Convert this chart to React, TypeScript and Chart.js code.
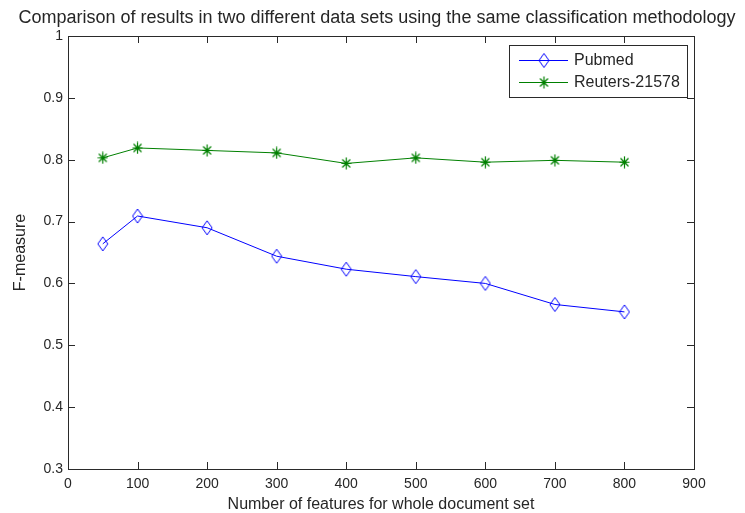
import React, { useEffect, useRef } from "react";
import { Chart, registerables } from "chart.js";

Chart.register(...registerables);

const TITLE = "Comparison of results in two different data sets using the same classification methodology";
const X_LABEL = "Number of features for whole document set";
const Y_LABEL = "F-measure";

const features = [50, 100, 200, 300, 400, 500, 600, 700, 800];
const pubmed = [0.664, 0.709, 0.69, 0.644, 0.623, 0.611, 0.6, 0.566, 0.554];
const reuters = [0.803, 0.819, 0.815, 0.811, 0.794, 0.803, 0.796, 0.799, 0.796];
const seriesNames = ["Pubmed", "Reuters-21578"];

const FONT = "'Liberation Sans', Arial, sans-serif";
const TEXT = "#262626";
const AXIS = "#2a2a2a";
const BLUE = "#0000ff";
const GREEN = "#008000";

function makeDiamond(): HTMLCanvasElement {
  const c = document.createElement("canvas");
  c.width = 12;
  c.height = 16;
  const ctx = c.getContext("2d")!;
  ctx.strokeStyle = BLUE;
  ctx.lineWidth = 1;
  ctx.beginPath();
  ctx.moveTo(6, 1);
  ctx.lineTo(11, 8);
  ctx.lineTo(6, 15);
  ctx.lineTo(1, 8);
  ctx.closePath();
  ctx.stroke();
  return c;
}

function makeStar(): HTMLCanvasElement {
  const c = document.createElement("canvas");
  c.width = 11;
  c.height = 13;
  const ctx = c.getContext("2d")!;
  ctx.strokeStyle = GREEN;
  ctx.lineWidth = 1.2;
  ctx.beginPath();
  ctx.moveTo(5.5, 0.5);
  ctx.lineTo(5.5, 12.5);
  ctx.moveTo(0.5, 6.5);
  ctx.lineTo(10.5, 6.5);
  ctx.moveTo(1.5, 2.5);
  ctx.lineTo(9.5, 10.5);
  ctx.moveTo(9.5, 2.5);
  ctx.lineTo(1.5, 10.5);
  ctx.stroke();
  ctx.fillStyle = GREEN;
  ctx.beginPath();
  ctx.arc(5.5, 6.5, 2, 0, Math.PI * 2);
  ctx.fill();
  return c;
}

export default function App() {
  const ref = useRef<HTMLCanvasElement | null>(null);

  useEffect(() => {
    if (!ref.current) return;
    const diamond = makeDiamond();
    const star = makeStar();

    const frame = {
      id: "matlabFrame",
      afterDraw(chart: any) {
        const { ctx, chartArea: a, scales } = chart;
        const xs = scales.x;
        const ys = scales.y;
        ctx.save();
        ctx.strokeStyle = AXIS;
        ctx.lineWidth = 1;
        ctx.strokeRect(Math.round(a.left) + 0.5, Math.round(a.top) + 0.5, Math.round(a.right - a.left), Math.round(a.bottom - a.top));
        const tl = 7;
        ctx.beginPath();
        xs.ticks.forEach((t: any) => {
          const px = Math.round(xs.getPixelForValue(t.value)) + 0.5;
          ctx.moveTo(px, a.bottom);
          ctx.lineTo(px, a.bottom - tl);
          ctx.moveTo(px, a.top);
          ctx.lineTo(px, a.top + tl);
        });
        ys.ticks.forEach((t: any) => {
          const py = Math.round(ys.getPixelForValue(t.value)) + 0.5;
          ctx.moveTo(a.left, py);
          ctx.lineTo(a.left + tl, py);
          ctx.moveTo(a.right, py);
          ctx.lineTo(a.right - tl, py);
        });
        ctx.stroke();

        // title
        ctx.fillStyle = TEXT;
        ctx.font = `18px ${FONT}`;
        ctx.textAlign = "center";
        ctx.textBaseline = "middle";
        ctx.fillText(TITLE, 377, 18);
        // x label
        ctx.font = `16px ${FONT}`;
        ctx.fillText(X_LABEL, (a.left + a.right) / 2, 505);
        // y label
        ctx.save();
        ctx.translate(21, (a.top + a.bottom) / 2);
        ctx.rotate(-Math.PI / 2);
        ctx.fillText(Y_LABEL, 0, 0);
        ctx.restore();

        // legend
        const lx = 509, ly = 45, lw = 178, lh = 52;
        ctx.fillStyle = "#ffffff";
        ctx.fillRect(lx, ly, lw, lh);
        ctx.strokeStyle = AXIS;
        ctx.strokeRect(lx + 0.5, ly + 0.5, lw, lh);
        const rows = [ly + 15, ly + 37];
        chart.data.datasets.forEach((ds: any, i: number) => {
          const y = rows[i];
          ctx.strokeStyle = ds.borderColor;
          ctx.lineWidth = 1;
          ctx.beginPath();
          ctx.moveTo(lx + 10, y + 0.5);
          ctx.lineTo(lx + 59, y + 0.5);
          ctx.stroke();
          const img = ds.pointStyle as HTMLCanvasElement;
          ctx.drawImage(img, lx + 35 - img.width / 2, y - img.height / 2 + 0.5);
          ctx.fillStyle = TEXT;
          ctx.font = `16px ${FONT}`;
          ctx.textAlign = "left";
          ctx.textBaseline = "middle";
          ctx.fillText(ds.label, lx + 65, y + 1);
        });
        ctx.restore();
      },
    };

    const chart = new Chart(ref.current, {
      type: "line",
      data: {
        datasets: [
          {
            label: seriesNames[0],
            data: features.map((f, i) => ({ x: f, y: pubmed[i] })),
            borderColor: BLUE,
            backgroundColor: BLUE,
            borderWidth: 1,
            pointStyle: diamond as any,
            pointRadius: 6,
          },
          {
            label: seriesNames[1],
            data: features.map((f, i) => ({ x: f, y: reuters[i] })),
            borderColor: GREEN,
            backgroundColor: GREEN,
            borderWidth: 1,
            pointStyle: star as any,
            pointRadius: 6,
          },
        ],
      },
      options: {
        animation: false,
        responsive: false,
        layout: { padding: { top: 36, right: 51, left: 0, bottom: 0 } },
        plugins: {
          legend: { display: false },
          title: { display: false },
          tooltip: { enabled: false },
        },
        scales: {
          x: {
            type: "linear",
            min: 0,
            max: 900,
            grid: { display: false, drawTicks: false },
            border: { display: false },
            ticks: { stepSize: 100, color: TEXT, font: { family: FONT, size: 14 }, padding: 7, maxRotation: 0 },
            afterFit: (s: any) => {
              s.height = 44;
            },
          },
          y: {
            type: "linear",
            min: 0.3,
            max: 1,
            grid: { display: false, drawTicks: false },
            border: { display: false },
            ticks: {
              stepSize: 0.1,
              color: TEXT,
              font: { family: FONT, size: 14 },
              padding: 5,
              callback: (v: any) => String(Number(Number(v).toFixed(1))),
            },
            afterFit: (s: any) => {
              s.width = 68;
            },
          },
        },
      },
      plugins: [frame],
    });
    return () => chart.destroy();
  }, []);

  return (
    <div style={{ position: "fixed", left: 0, top: 0, width: 745, height: 513, background: "#fff" }}>
      <canvas ref={ref} width={745} height={513} style={{ display: "block" }} />
    </div>
  );
}
